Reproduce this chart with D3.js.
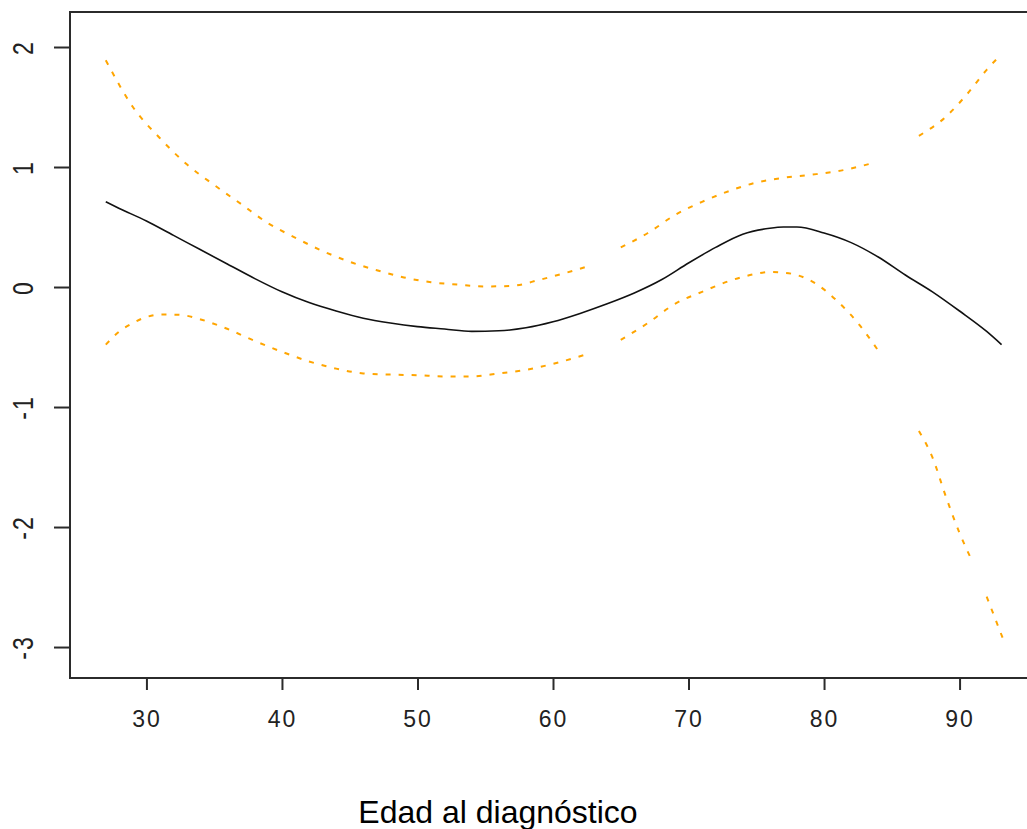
<!DOCTYPE html>
<html>
<head>
<meta charset="utf-8">
<script src="https://cdn.jsdelivr.net/npm/d3@7"></script>
<style>
  html, body { margin: 0; padding: 0; background: #fff; }
  svg { display: block; }
</style>
</head>
<body>
<svg id="chart" width="1027" height="829"></svg>
<script>
// ---- data ----
const fitAge = [27, 28, 30, 32, 34, 36, 38, 40, 42, 44, 46, 48, 50, 52, 54, 56, 58, 60, 62, 64, 66, 68, 70, 72, 74, 76, 77, 78, 80, 82, 84, 86, 88, 90, 92, 93.1];
const fitValue = [0.71, 0.655, 0.55, 0.43, 0.31, 0.19, 0.07, -0.04, -0.13, -0.20, -0.26, -0.30, -0.33, -0.35, -0.37, -0.365, -0.34, -0.29, -0.22, -0.14, -0.05, 0.06, 0.20, 0.33, 0.44, 0.49, 0.50, 0.50, 0.45, 0.37, 0.25, 0.10, -0.04, -0.20, -0.37, -0.48];

// null marks a break in the drawn band
const upperAge = [27, 29, 31, 33, 35, 37, 39, 41, 43, 45, 47, 49, 51, 53, 55, 57, 59, 61, 62.5, 63.5, 65, 67, 69, 71, 73, 75, 77, 79, 81, 83.5, 85, 87, 89, 90.5, 92, 93];
const upperValue = [1.89, 1.50, 1.24, 1.02, 0.85, 0.69, 0.53, 0.41, 0.30, 0.21, 0.14, 0.08, 0.04, 0.02, 0.005, 0.01, 0.06, 0.12, 0.17, null, 0.33, 0.45, 0.60, 0.71, 0.80, 0.87, 0.91, 0.935, 0.965, 1.03, null, 1.26, 1.42, 1.60, 1.81, 1.93];

const lowerAge = [27, 28, 29, 30, 31, 32, 33, 34, 36, 38, 40, 42, 44, 46, 48, 50, 52, 54, 56, 58, 60, 62.5, 63.5, 65, 67, 69, 71, 73, 75, 76, 77, 78, 79.5, 81, 82.5, 84, 85.5, 87, 88, 89, 90, 91, 91.5, 92, 93.2];
const lowerValue = [-0.48, -0.37, -0.30, -0.25, -0.23, -0.23, -0.24, -0.27, -0.35, -0.45, -0.54, -0.62, -0.68, -0.72, -0.73, -0.735, -0.745, -0.745, -0.72, -0.69, -0.64, -0.56, null, -0.44, -0.30, -0.14, -0.04, 0.05, 0.11, 0.125, 0.12, 0.10, 0.02, -0.12, -0.30, -0.53, null, -1.20, -1.42, -1.75, -2.05, -2.30, null, -2.58, -2.93];

const xTicks = [30, 40, 50, 60, 70, 80, 90];
const yTicks = [-3, -2, -1, 0, 1, 2];
const xTitle = "Edad al diagnóstico";

// ---- scales ----
const svg = d3.select("#chart");
const x = d3.scaleLinear().domain([24.36, 95.64]).range([70, 1036]);
const y = d3.scaleLinear().domain([-3.258, 2.2917]).range([678, 12]);

const axisColor = "#2b2b2b";
const fmt = d => String(d); // plain hyphen-minus, no decimals

// plot box
svg.append("rect")
  .attr("x", x.range()[0]).attr("y", y.range()[1])
  .attr("width", x.range()[1] - x.range()[0])
  .attr("height", y.range()[0] - y.range()[1])
  .attr("fill", "none").attr("stroke", axisColor).attr("stroke-width", 2);

// x axis
const xAxis = d3.axisBottom(x).tickValues(xTicks).tickFormat(fmt).tickSize(12).tickPadding(21).tickSizeOuter(0);
const gx = svg.append("g").attr("transform", `translate(0,${y.range()[0]})`).call(xAxis);
gx.select(".domain").remove();
gx.selectAll(".tick line").attr("stroke", axisColor).attr("stroke-width", 2);
gx.selectAll(".tick text")
  .attr("fill", "#222")
  .attr("font-family", "'Liberation Sans', Arial, sans-serif")
  .attr("font-size", 23)
  .attr("letter-spacing", 2)
  .attr("dy", "0.71em");

// y axis
const yAxis = d3.axisLeft(y).tickValues(yTicks).tickFormat(fmt).tickSize(16).tickPadding(0).tickSizeOuter(0);
const gy = svg.append("g").attr("transform", `translate(${x.range()[0]},0)`).call(yAxis);
gy.select(".domain").remove();
gy.selectAll(".tick line").attr("stroke", axisColor).attr("stroke-width", 2);
gy.selectAll(".tick text")
  .attr("fill", "#222")
  .attr("font-family", "'Liberation Sans', Arial, sans-serif")
  .attr("font-size", 23)
  .attr("letter-spacing", 2)
  .attr("text-anchor", "middle")
  .attr("x", null).attr("dy", null)
  .attr("transform", "translate(-37,0) rotate(-90) scale(1,1.25)");

// lines
const line = d3.line()
  .defined(d => d[1] !== null)
  .x(d => x(d[0])).y(d => y(d[1]))
  .curve(d3.curveMonotoneX);

svg.append("path")
  .datum(upperAge.map((a, i) => [a, upperValue[i]]))
  .attr("d", line)
  .attr("fill", "none").attr("stroke", "#FFA500").attr("stroke-width", 2)
  .attr("stroke-dasharray", "5,8");

svg.append("path")
  .datum(lowerAge.map((a, i) => [a, lowerValue[i]]))
  .attr("d", line)
  .attr("fill", "none").attr("stroke", "#FFA500").attr("stroke-width", 2)
  .attr("stroke-dasharray", "5,8");

svg.append("path")
  .datum(fitAge.map((a, i) => [a, fitValue[i]]))
  .attr("d", line)
  .attr("fill", "none").attr("stroke", "#111").attr("stroke-width", 1.6);

// x title
svg.append("text")
  .attr("x", 498).attr("y", 823)
  .attr("text-anchor", "middle")
  .attr("font-family", "'Liberation Sans', Arial, sans-serif")
  .attr("font-size", 32)
  .attr("fill", "#000")
  .text(xTitle);
</script>
</body>
</html>
